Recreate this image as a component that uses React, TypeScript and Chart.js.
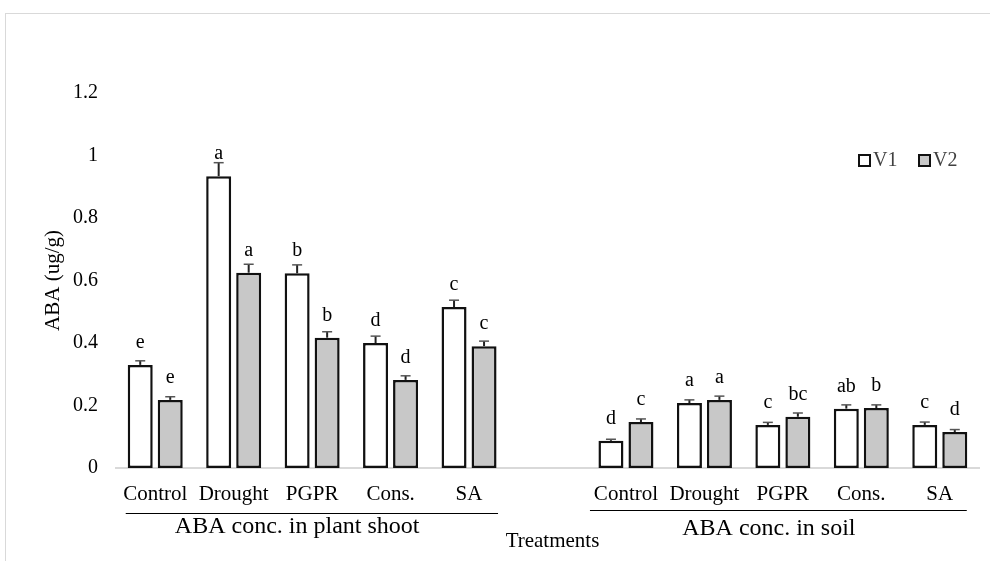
import { useEffect, useRef } from 'react';
import { Chart, registerables } from 'chart.js';

Chart.register(...registerables);

const categories = ['Control', 'Drought', 'PGPR', 'Cons.', 'SA', '', 'Control', 'Drought', 'PGPR', 'Cons.', 'SA'];
const seriesNames = ['V1', 'V2'];
const v1Values = [0.33, 0.934, 0.623, 0.40, 0.515, null, 0.087, 0.208, 0.138, 0.19, 0.138];
const v2Values = [0.218, 0.625, 0.417, 0.282, 0.39, null, 0.147, 0.218, 0.164, 0.192, 0.115];
const v1Errors = [0.013, 0.043, 0.027, 0.022, 0.022, null, 0.005, 0.01, 0.008, 0.012, 0.009];
const v2Errors = [0.01, 0.027, 0.019, 0.013, 0.016, null, 0.01, 0.012, 0.012, 0.01, 0.008];
const v1Letters = ['e', 'a', 'b', 'd', 'c', '', 'd', 'a', 'c', 'ab', 'c'];
const v2Letters = ['e', 'a', 'b', 'd', 'c', '', 'c', 'a', 'bc', 'b', 'd'];
const yTickValues = [0, 0.2, 0.4, 0.6, 0.8, 1, 1.2];
const groupLabels = ['ABA conc. in plant shoot', 'ABA conc. in soil'];
const xTitle = 'Treatments';
const yTitle = 'ABA (ug/g)';

const SERIF = "'Liberation Serif', 'Times New Roman', serif";
const V2_FILL = '#c8c8c8';

const overlayPlugin = {
  id: 'overlay',
  afterDatasetsDraw(chart: any) {
    const { ctx, scales } = chart;
    const y = scales.y;
    ctx.save();
    const sets = [
      { vals: v1Values, errs: v1Errors, letters: v1Letters },
      { vals: v2Values, errs: v2Errors, letters: v2Letters },
    ];
    sets.forEach((s, di) => {
      const meta = chart.getDatasetMeta(di);
      meta.data.forEach((bar: any, i: number) => {
        const v = s.vals[i];
        if (v == null) return;
        const cx = bar.x;
        const top = y.getPixelForValue(v);
        const et = y.getPixelForValue(v + (s.errs[i] || 0));
        ctx.strokeStyle = '#222';
        ctx.lineWidth = 2;
        ctx.beginPath();
        ctx.moveTo(cx, top);
        ctx.lineTo(cx, et);
        ctx.stroke();
        ctx.strokeStyle = '#555';
        ctx.lineWidth = 1.5;
        ctx.beginPath();
        ctx.moveTo(cx - 5, et);
        ctx.lineTo(cx + 5, et);
        ctx.stroke();
        ctx.fillStyle = '#000';
        ctx.font = `20px ${SERIF}`;
        ctx.textAlign = 'center';
        ctx.textBaseline = 'alphabetic';
        ctx.fillText(s.letters[i], cx, top - 17);
      });
    });
    ctx.restore();
  },
  afterDraw(chart: any) {
    const { ctx, scales } = chart;
    const x = scales.x;
    ctx.save();
    // group underlines
    ctx.strokeStyle = '#000';
    ctx.lineWidth = 1;
    ctx.beginPath();
    ctx.moveTo(x.getPixelForValue(0) - 29.5, 513.5);
    ctx.lineTo(x.getPixelForValue(4) + 29, 513.5);
    ctx.moveTo(x.getPixelForValue(6) - 36, 510.5);
    ctx.lineTo(x.getPixelForValue(10) + 27, 510.5);
    ctx.stroke();
    // group labels
    ctx.fillStyle = '#000';
    ctx.font = `24px ${SERIF}`;
    ctx.textAlign = 'center';
    ctx.textBaseline = 'alphabetic';
    ctx.fillText(groupLabels[0], x.getPixelForValue(2) - 15, 533);
    ctx.fillText(groupLabels[1], x.getPixelForValue(8) - 14, 535);
    // axis title
    ctx.font = `21px ${SERIF}`;
    ctx.fillText(xTitle, (x.left + x.right) / 2 + 5, 547);
    // legend
    const legendItems = [
      { name: seriesNames[0], fill: '#ffffff', bx: 858 },
      { name: seriesNames[1], fill: V2_FILL, bx: 918 },
    ];
    legendItems.forEach((it) => {
      ctx.fillStyle = it.fill;
      ctx.fillRect(it.bx, 154, 13, 13);
      ctx.strokeStyle = '#111';
      ctx.lineWidth = 2;
      ctx.strokeRect(it.bx + 1, 155, 11, 11);
      ctx.fillStyle = '#404040';
      ctx.font = `20px ${SERIF}`;
      ctx.textAlign = 'left';
      ctx.textBaseline = 'middle';
      ctx.fillText(it.name, it.bx + 15, 161);
    });
    ctx.restore();
  },
};

export default function App() {
  const canvasRef = useRef<HTMLCanvasElement | null>(null);

  useEffect(() => {
    const canvas = canvasRef.current;
    if (!canvas) return;
    const chart = new Chart(canvas, {
      type: 'bar',
      data: {
        labels: categories,
        datasets: [
          {
            label: seriesNames[0],
            data: v1Values as any,
            backgroundColor: '#ffffff',
            borderColor: '#111111',
            borderWidth: 2.5,
            borderSkipped: false,
          },
          {
            label: seriesNames[1],
            data: v2Values as any,
            backgroundColor: V2_FILL,
            borderColor: '#111111',
            borderWidth: 2.5,
            borderSkipped: false,
          },
        ],
      },
      options: {
        animation: false,
        responsive: false,
        devicePixelRatio: 1,
        layout: { padding: { top: 93, right: 11, bottom: 0, left: 0 } },
        datasets: {
          bar: { categoryPercentage: 0.765, barPercentage: 0.833 },
        },
        plugins: {
          legend: { display: false },
          tooltip: { enabled: false },
        },
        scales: {
          x: {
            grid: { display: false, drawTicks: false },
            border: { display: true, color: '#d9d9d9', width: 2 },
            ticks: {
              color: '#000',
              font: { family: SERIF, size: 21 },
              padding: 14,
              maxRotation: 0,
              autoSkip: false,
            },
            afterFit: (scale: any) => {
              scale.height = 93;
            },
          },
          y: {
            min: 0,
            max: 1.2,
            grid: { display: false, drawTicks: false },
            border: { display: false },
            afterBuildTicks: (scale: any) => {
              scale.ticks = yTickValues.map((v) => ({ value: v }));
            },
            ticks: {
              color: '#000',
              font: { family: SERIF, size: 20 },
              padding: 18,
              callback: (v: any) => String(Math.round(Number(v) * 10) / 10),
            },
            title: {
              display: true,
              text: yTitle,
              color: '#000',
              font: { family: SERIF, size: 21 },
              padding: { top: 41, bottom: 0 },
            },
            afterFit: (scale: any) => {
              scale.width = 116;
            },
          },
        },
      },
      plugins: [overlayPlugin],
    });
    return () => chart.destroy();
  }, []);

  return (
    <div style={{ position: 'absolute', left: 0, top: 0, width: 990, height: 561, background: '#fff', overflow: 'hidden' }}>
      <div
        style={{
          position: 'absolute',
          left: 5,
          top: 13,
          width: 1000,
          height: 600,
          border: '1px solid #d9d9d9',
          boxSizing: 'border-box',
        }}
      />
      <canvas ref={canvasRef} width={990} height={561} style={{ position: 'absolute', left: 0, top: 0 }} />
    </div>
  );
}
